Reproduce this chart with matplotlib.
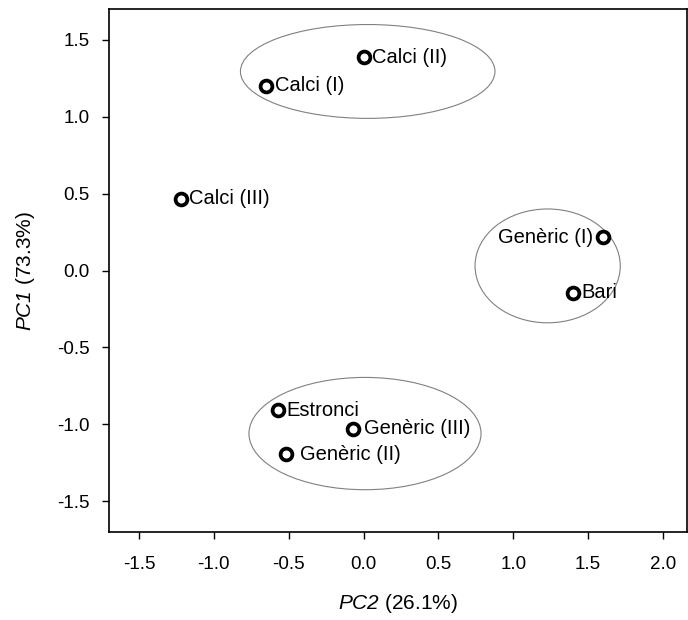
import matplotlib
matplotlib.use('Agg')
import matplotlib.pyplot as plt
from matplotlib.patches import Ellipse

plt.rcParams['font.family'] = ['Liberation Sans', 'DejaVu Sans']
# mathtext only for the italic "PC1"/"PC2" parts of the axis labels
plt.rcParams['mathtext.fontset'] = 'custom'
plt.rcParams['mathtext.rm'] = 'Liberation Sans:italic'
plt.rcParams['mathtext.it'] = 'Liberation Sans:italic'

# dades PCA
labels = ['Calci (II)', 'Calci (I)', 'Calci (III)', 'Genèric (I)', 'Bari',
          'Estronci', 'Genèric (III)', 'Genèric (II)']
pc2 = [0.00, -0.65, -1.22, 1.60, 1.40, -0.57, -0.07, -0.52]
pc1 = [1.385, 1.20, 0.468, 0.215, -0.143, -0.91, -1.03, -1.196]

# el·lipses dels grups: centre x, centre y, amplada, alçada
ell_cx = [0.028, 1.23, 0.01]
ell_cy = [1.294, 0.03, -1.06]
ell_w = [1.70, 0.97, 1.55]
ell_h = [0.61, 0.74, 0.73]

xticks = [-1.5, -1.0, -0.5, 0.0, 0.5, 1.0, 1.5, 2.0]
yticks = [-1.5, -1.0, -0.5, 0.0, 0.5, 1.0, 1.5]

fig = plt.figure(figsize=(6.88, 6.20), dpi=100)
ax = fig.add_axes([0.1584, 0.1419, 0.8400, 0.8436])

for cx, cy, w, h in zip(ell_cx, ell_cy, ell_w, ell_h):
    ax.add_patch(Ellipse((cx, cy), w, h, fill=False, edgecolor='#808080', linewidth=0.8))

ax.plot(pc2, pc1, 'o', markersize=8.5, markerfacecolor='white',
        markeredgecolor='black', markeredgewidth=2.7, zorder=3)

for name, x, y in zip(labels, pc2, pc1):
    if name == 'Genèric (I)':
        ax.annotate(name, (x, y), xytext=(-7, 0), textcoords='offset points',
                    ha='right', va='center', fontsize=14.5)
    elif name == 'Genèric (II)':
        ax.annotate(name, (x, y), xytext=(10, 0), textcoords='offset points',
                    ha='left', va='center', fontsize=14.5)
    elif name == 'Genèric (III)':
        ax.annotate(name, (x, y), xytext=(8, 0), textcoords='offset points',
                    ha='left', va='center', fontsize=14.5)
    else:
        ax.annotate(name, (x, y), xytext=(6, 0), textcoords='offset points',
                    ha='left', va='center', fontsize=14.5)

ax.set_xlim(-1.70, 2.16)
ax.set_ylim(-1.70, 1.70)
ax.set_xticks(xticks)
ax.set_yticks(yticks)
ax.set_xticklabels([f'{v:.1f}' for v in xticks])
ax.set_yticklabels([f'{v:.1f}' for v in yticks])
ax.tick_params(labelsize=13.5, length=5, width=1)
ax.tick_params(axis='x', pad=12)
ax.tick_params(axis='y', pad=9)
for s in ax.spines.values():
    s.set_linewidth(1.2)

ax.set_xlabel('$PC2$ (26.1%)', fontsize=15, labelpad=14)
ax.set_ylabel('$PC1$ (73.3%)', fontsize=15, labelpad=14)

fig.savefig('out.png', dpi=100)
